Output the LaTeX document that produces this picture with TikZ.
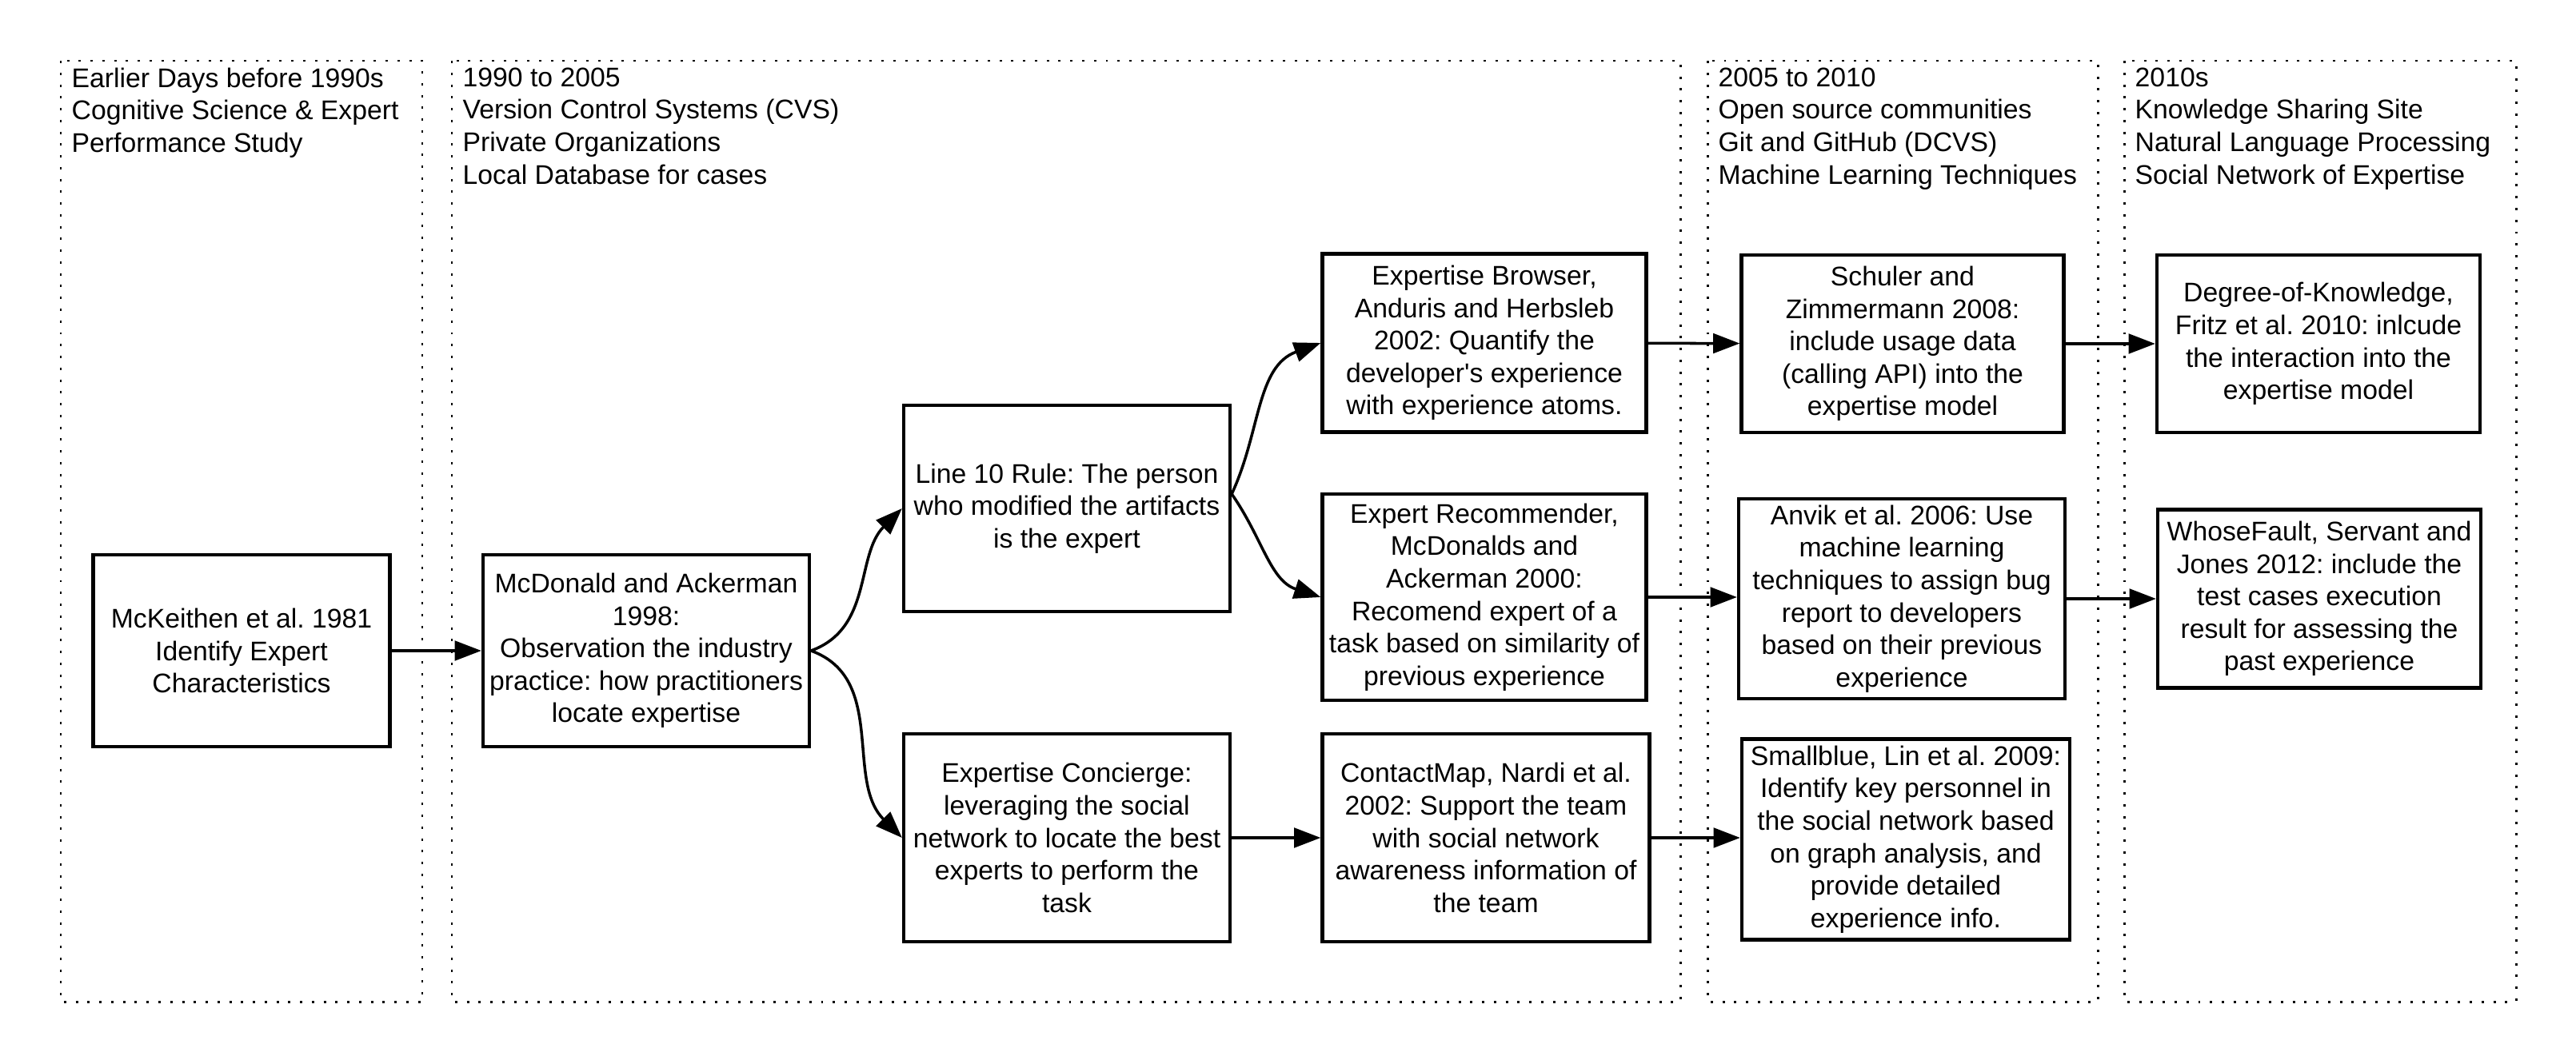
\documentclass[tikz,border=0pt]{standalone}
\usepackage{fontspec}
\setmainfont{Liberation Sans}
\usetikzlibrary{arrows.meta, positioning}
\frenchspacing

\begin{document}
\begin{tikzpicture}[
    every node/.style={font=\fontsize{9.6}{11.55}\selectfont},
    pnl/.style={line width=0.85pt, dash pattern=on 0.85pt off 3.35pt},
    hd/.style={anchor=north west, align=left, inner sep=0pt},
    bx/.style={draw, line width=1.2pt, fill=white, minimum width=4.08cm, align=center, inner sep=2pt},
    a/.style={-{Triangle[length=9.5pt, width=7pt]}, line width=1pt}
]
\useasboundingbox (0,0) rectangle (32.21,-13.31);
\draw[pnl] (0.76,-0.76) rectangle (5.28,-12.53);
\draw[pnl] (5.65,-0.76) rectangle (21.01,-12.53);
\draw[pnl] (21.35,-0.76) rectangle (26.23,-12.53);
\draw[pnl] (26.56,-0.76) rectangle (31.46,-12.53);
\node[hd] (era1) at (0.89,-0.84) {Earlier Days before 1990s\\Cognitive Science \& Expert\\Performance Study};
\node[hd] (era2) at (5.78,-0.84) {1990 to 2005\\Version Control Systems (CVS)\\Private Organizations\\Local Database for cases};
\node[hd] (era3) at (21.48,-0.84) {2005 to 2010\\Open source communities\\Git and GitHub (DCVS)\\Machine Learning Techniques};
\node[hd] (era4) at (26.69,-0.84) {2010s\\Knowledge Sharing Site\\Natural Language Processing\\Social Network of Expertise};

\node[bx, minimum width=3.71cm, minimum height=2.40cm] (mck) at (3.02,-8.14) {McKeithen et al. 1981\\Identify Expert\\Characteristics};
\node[bx, minimum height=2.40cm] (mcd) at (8.08,-8.14) {McDonald and Ackerman\\1998:\\Observation the industry\\practice: how practitioners\\locate expertise};
\node[bx, minimum height=2.58cm] (line10) at (13.34,-6.36) {Line 10 Rule: The person\\who modified the artifacts\\is the expert};
\node[bx, minimum height=2.60cm] (conc) at (13.34,-10.48) {Expertise Concierge:\\leveraging the social\\network to locate the best\\experts to perform the\\task};
\node[bx, minimum width=4.05cm, minimum height=2.23cm] (browser) at (18.56,-4.29) {Expertise Browser,\\Anduris and Herbsleb\\2002: Quantify the\\developer\textquotesingle s experience\\with experience atoms.};
\node[bx, minimum width=4.05cm, minimum height=2.58cm] (recom) at (18.56,-7.47) {Expert Recommender,\\McDonalds and\\Ackerman 2000:\\Recomend expert of a\\task based on similarity of\\previous experience};
\node[bx, minimum width=4.09cm, minimum height=2.60cm] (cmap) at (18.58,-10.48) {ContactMap, Nardi et al.\\2002: Support the team\\with social network\\awareness information of\\the team};
\node[bx, minimum width=4.03cm, minimum height=2.22cm] (schuler) at (23.79,-4.30) {Schuler and\\Zimmermann 2008:\\include usage data\\(calling API) into the\\expertise model};
\node[bx, minimum height=2.50cm] (anvik) at (23.78,-7.49) {Anvik et al. 2006: Use\\machine learning\\techniques to assign bug\\report to developers\\based on their previous\\experience};
\node[bx, minimum width=4.10cm, minimum height=2.51cm] (small) at (23.83,-10.50) {Smallblue, Lin et al. 2009:\\Identify key personnel in\\the social network based\\on graph analysis, and\\provide detailed\\experience info.};
\node[bx, minimum width=4.04cm, minimum height=2.22cm] (degree) at (28.99,-4.30) {Degree-of-Knowledge,\\Fritz et al. 2010: inlcude\\the interaction into the\\expertise model};
\node[bx, minimum width=4.04cm, minimum height=2.23cm] (whose) at (29.00,-7.49) {WhoseFault, Servant and\\Jones 2012: include the\\test cases execution\\result for assessing the\\past experience};

\draw[a] (mck) -- (mcd);
\draw[a] (mcd.east) to[out=20, in=225] (line10.west);
\draw[a] (mcd.east) to[out=-20, in=135] (conc.west);
\draw[a] (line10.5) to[out=65, in=200] (browser.west);
\draw[a] (line10.5) to[out=-55, in=162] (recom.west);
\draw[a] (conc) -- (cmap);
\draw[a] (browser) -- (schuler);
\draw[a] (recom.east) -- (recom.east -| anvik.west);
\draw[a] (cmap.east) -- (cmap.east -| small.west);
\draw[a] (schuler) -- (degree);
\draw[a] (anvik.east) -- (anvik.east -| whose.west);
\end{tikzpicture}
\end{document}
